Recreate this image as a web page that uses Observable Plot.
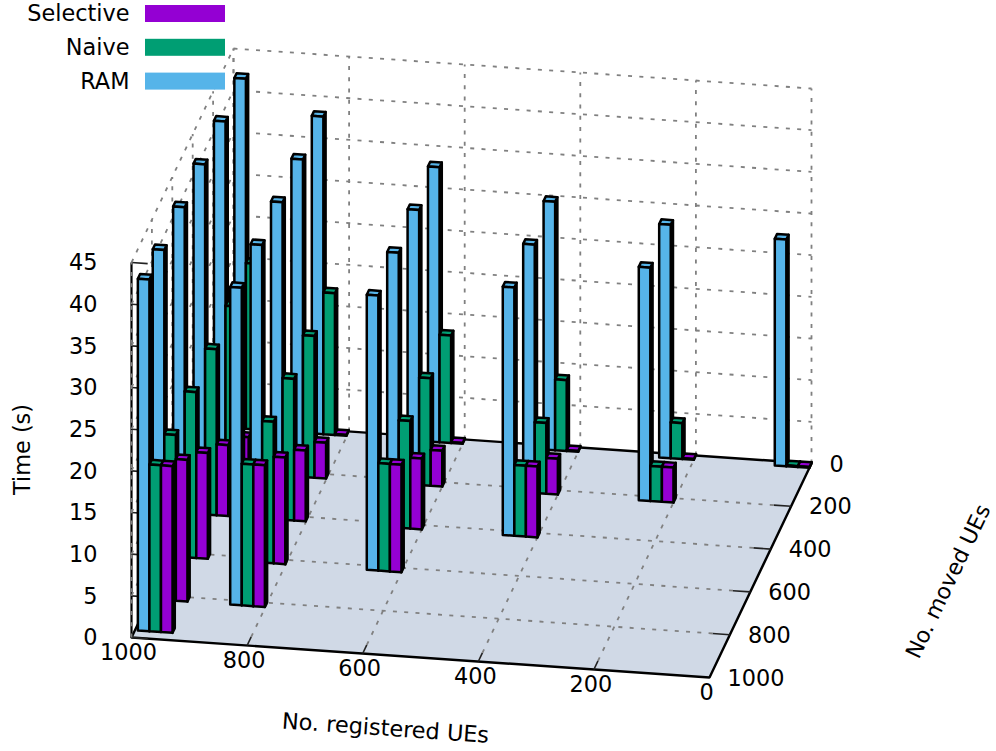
<!DOCTYPE html>
<html>
<head>
<meta charset="utf-8">
<script src="https://cdn.jsdelivr.net/npm/d3@7"></script>
<script src="https://cdn.jsdelivr.net/npm/@observablehq/plot@0.6"></script>
<style>html,body{margin:0;padding:0;background:#fff}svg{display:block}</style>
</head>
<body>
<div id="chart"></div>
<script>
// ---- data ----
const registeredTicks = [1000, 800, 600, 400, 200, 0];
const movedTicks = [0, 200, 400, 600, 800, 1000];
const timeTicks = [0, 5, 10, 15, 20, 25, 30, 35, 40, 45];
// per registered row, one value per moved count (0 .. registered)
const ramRows = [
  [42.0, 42.0, 42.0, 42.0, 42.0, 42.2],
  [38.1, 38.1, 38.1, 38.1, 38.1],
  [33.0, 33.0, 33.0, 33.0],
  [29.8, 29.8, 29.8],
  [28.0, 28.0],
  [27.2]
];
const naiveRows = [
  [19.9, 19.9, 19.9, 19.9, 19.9, 20.0],
  [17.0, 17.0, 17.0, 17.0, 17.0],
  [12.9, 12.9, 12.9, 12.9],
  [8.5, 8.5, 8.5],
  [4.3, 4.2],
  [0.1]
];
const selectiveRows = [
  [0.1, 4.3, 8.5, 12.7, 17.0, 20.0],
  [0.1, 4.3, 8.5, 12.8, 17.0],
  [0.1, 4.3, 8.5, 12.9],
  [0.1, 4.3, 8.5],
  [0.1, 4.2],
  [0.1]
];
const seriesNames = ["RAM", "Naive", "Selective"];
const seriesColors = ["#56B4E9", "#009E73", "#9400D3"];
const legendOrder = ["Selective", "Naive", "RAM"];

// ---- gnuplot-like orthographic view ----
const W = 996, H = 751;
const view = {ox: 709, oy: 677, xx: -0.578, xy: -0.040, yx: -0.102, yy: 0.214, zy: -8.333};
const px = (x, y) => view.ox + view.xx * x + view.yx * (y - 1000);
const py = (x, y, z = 0) => view.oy + view.xy * x + view.yy * (y - 1000) + view.zy * z;
const P = (x, y, z = 0) => ({x: px(x, y), y: py(x, y, z)});
const seg = (a, b) => ({x1: a.x, y1: a.y, x2: b.x, y2: b.y});

// bar footprint
const barW = 20, barD = 22;
const groupLeft = X => X === 1000 ? 995 : X === 800 ? 861 : X + 60;
const groupFront = Y => Y === 1000 ? 966 : Y + 20;

const faces = [];
const bars = [];
registeredTicks.forEach((X, r) => {
  ramRows[r].forEach((_, m) => {
    const Y = movedTicks[m];
    [ramRows, naiveRows, selectiveRows].forEach((rows, s) => {
      const x0 = groupLeft(X) - s * barW, x1 = x0 - barW;
      const y1 = groupFront(Y), y0 = y1 - barD;
      bars.push({x0, x1, y0, y1, z: rows[r][m], color: seriesColors[s],
        depth: -0.102 * (x0 + x1) / 2 + 0.578 * (y0 + y1) / 2});
    });
  });
});
bars.sort((a, b) => a.depth - b.depth);
bars.forEach((b, i) => {
  const {x0, x1, y0, y1, z, color} = b;
  const add = (name, corners) => [...corners, corners[0]].forEach(c =>
    faces.push({...P(...c), id: `${i}-${name}`, color}));
  add("side", [[x1, y1, 0], [x1, y0, 0], [x1, y0, z], [x1, y1, z]]);
  add("top", [[x0, y1, z], [x1, y1, z], [x1, y0, z], [x0, y0, z]]);
  add("front", [[x0, y1, 0], [x1, y1, 0], [x1, y1, z], [x0, y1, z]]);
});

const zMax = 45, xMax = 1000, yMax = 1000;
const floor = [[xMax, yMax], [0, yMax], [0, 0], [xMax, 0], [xMax, yMax]].map(c => P(c[0], c[1]));
const grid = [
  ...registeredTicks.filter(X => X > 0 && X < 1000).map(X => seg(P(X, yMax - 40), P(X, 0))),
  ...movedTicks.filter(Y => Y > 0 && Y < 1000).map(Y => seg(P(30, Y), P(xMax, Y))),
  ...registeredTicks.map(X => seg(P(X, 0), P(X, 0, zMax))),
  ...movedTicks.map(Y => seg(P(xMax, Y), P(xMax, Y, zMax))),
  ...timeTicks.filter(z => z > 0).map(z => seg(P(xMax, 0, z), P(0, 0, z))),
  ...timeTicks.filter(z => z > 0).map(z => seg(P(xMax, yMax, z), P(xMax, 0, z)))
];
const ticks = [
  ...registeredTicks.filter(X => X > 0 && X < 1000).map(X => seg(P(X, yMax), P(X, yMax - 40))),
  ...movedTicks.filter(Y => Y > 0 && Y < 1000).map(Y => seg(P(0, Y), P(30, Y))),
  ...timeTicks.map(z => seg(P(xMax, yMax, z), P(xMax - 28, yMax, z)))
];
const border = [
  seg(P(xMax, yMax), P(xMax, yMax, zMax))
];

const legend = legendOrder.map((name, i) => ({
  name, color: seriesColors[seriesNames.indexOf(name)], row: i
}));
const legendY = i => 13.5 + i * 33.8;

const font = "DejaVu Sans";
const fs = 22.4;
const chart = Plot.plot({
  width: W, height: H, margin: 0,
  style: {fontFamily: font, background: "#fff", color: "#000"},
  x: {domain: [0, W], range: [0, W], axis: null},
  y: {domain: [0, H], range: [0, H], axis: null},
  color: {type: "identity"},
  marks: [
    Plot.line(floor, {x: "x", y: "y", fill: "#d0d9e6", stroke: "#000", strokeWidth: 2.4, strokeLinejoin: "miter"}),
    Plot.link(ticks, {x1: "x1", y1: "y1", x2: "x2", y2: "y2", stroke: "#222", strokeWidth: 1.6}),
    Plot.link(border, {x1: "x1", y1: "y1", x2: "x2", y2: "y2", stroke: "#000", strokeWidth: 2.2}),
    Plot.link(grid, {x1: "x1", y1: "y1", x2: "x2", y2: "y2", stroke: "#808080", strokeWidth: 1.8, strokeDasharray: "4,7.3"}),
    Plot.line(faces, {x: "x", y: "y", z: "id", fill: "color", stroke: "#000", strokeWidth: 2.5, strokeLinejoin: "round"}),
    Plot.text(timeTicks, {x: () => 97, y: z => py(xMax, yMax, z) + 0.5, text: d => String(d), textAnchor: "end", fontSize: fs, lineAnchor: "middle", fill: "#000"}),
    Plot.text(registeredTicks, {x: X => px(X, yMax) - 3, y: X => py(X, yMax) + 15.5, text: d => String(d), textAnchor: "middle", fontSize: fs, lineAnchor: "middle", fill: "#000"}),
    Plot.text(movedTicks, {x: Y => px(0, Y) + 18, y: Y => py(0, Y) + 1, text: d => String(d), textAnchor: "start", fontSize: fs, lineAnchor: "middle", fill: "#000"}),
    Plot.text(["No. registered UEs"], {x: () => 385, y: () => 728, text: d => d, rotate: 4, fontSize: fs, textAnchor: "middle", lineAnchor: "middle", fill: "#000"}),
    Plot.text(["No. moved UEs"], {x: () => 948, y: () => 581, text: d => d, rotate: -64.5, fontSize: 22, textAnchor: "middle", lineAnchor: "middle", fill: "#000"}),
    Plot.text(["Time (s)"], {x: () => 22, y: () => 449, text: d => d, rotate: -90, fontSize: fs, textAnchor: "middle", lineAnchor: "middle", fill: "#000"}),
    Plot.rect(legend, {x1: () => 145, x2: () => 225, y1: d => legendY(d.row) - 8.5, y2: d => legendY(d.row) + 8.5, fill: "color"}),
    Plot.text(legend, {x: () => 129, y: d => legendY(d.row), text: "name", textAnchor: "end", fontSize: fs, lineAnchor: "middle", fill: "#000"})
  ]
});
document.getElementById("chart").appendChild(chart);
</script>
</body>
</html>
